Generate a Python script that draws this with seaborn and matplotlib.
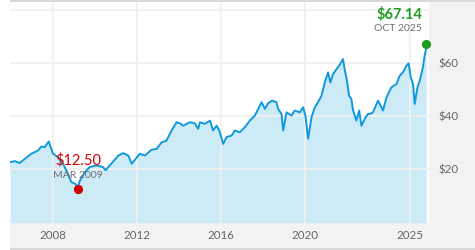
import matplotlib
matplotlib.use("Agg")
import matplotlib.pyplot as plt
import seaborn as sns
import pandas as pd
from matplotlib.patches import Rectangle

# ---- data ----
years = [2005.95, 2006.18, 2006.41, 2006.57, 2006.97, 2007.29, 2007.44, 2007.60, 2007.80, 2007.89,
         2008.00, 2008.24, 2008.48, 2008.71, 2008.87, 2009.03, 2009.19, 2009.29, 2009.52, 2009.76,
         2010.08, 2010.38, 2010.50, 2010.71, 2011.11, 2011.35, 2011.59, 2011.75, 2011.90, 2012.14,
         2012.38, 2012.70, 2012.94, 2013.18, 2013.41, 2013.65, 2013.89, 2014.05, 2014.20, 2014.52,
         2014.76, 2014.92, 2015.00, 2015.24, 2015.48, 2015.63, 2015.80, 2015.92, 2016.11, 2016.27,
         2016.51, 2016.67, 2016.90, 2017.14, 2017.38, 2017.62, 2017.78, 2017.94, 2018.10, 2018.25,
         2018.44, 2018.65, 2018.73, 2018.89, 2018.97, 2019.13, 2019.37, 2019.52, 2019.76, 2019.92,
         2020.03, 2020.16, 2020.32, 2020.48, 2020.63, 2020.80, 2020.95, 2021.11, 2021.22, 2021.35,
         2021.51, 2021.67, 2021.82, 2021.90, 2022.01, 2022.11, 2022.22, 2022.30, 2022.38, 2022.46,
         2022.59, 2022.70, 2022.86, 2023.01, 2023.10, 2023.25, 2023.49, 2023.73, 2023.89, 2024.13,
         2024.37, 2024.52, 2024.68, 2024.84, 2024.95, 2025.05, 2025.16, 2025.24, 2025.37, 2025.48,
         2025.63, 2025.71, 2025.79]
prices = [22.7, 23.1, 22.4, 23.4, 25.9, 27.1, 28.6, 28.3, 30.5, 28.3,
          25.9, 24.6, 22.1, 18.4, 15.3, 14.7, 13.6, 15.9, 19.0, 20.9,
          21.5, 20.9, 19.7, 21.5, 25.2, 26.1, 25.2, 22.1, 23.6, 25.9,
          25.2, 27.4, 27.7, 30.2, 30.8, 34.6, 37.7, 37.3, 36.4, 37.7,
          37.3, 35.2, 37.7, 37.1, 38.3, 34.6, 36.4, 34.6, 29.6, 32.1,
          32.7, 34.6, 33.9, 35.8, 38.3, 40.2, 42.7, 45.2, 42.7, 44.8,
          45.8, 45.2, 42.7, 40.8, 34.6, 41.4, 40.2, 42.1, 41.4, 43.3,
          40.2, 31.5, 39.6, 43.3, 45.2, 47.7, 52.6, 56.4, 52.6, 55.8,
          57.6, 59.3, 61.4, 57.6, 53.3, 47.7, 46.4, 42.1, 40.2, 38.3,
          42.1, 36.4, 39.0, 40.8, 40.8, 41.4, 45.8, 42.1, 47.0, 50.8,
          52.0, 55.1, 56.4, 58.9, 59.8, 54.5, 52.0, 44.6, 50.8, 53.3,
          58.2, 62.6, 65.5]

low_year, low_price, low_text, low_date = 2009.19, 12.50, "$12.50", "MAR 2009"
high_year, high_price, high_text, high_date = 2025.79, 67.14, "$67.14", "OCT 2025"

x_ticks = [2008, 2012, 2016, 2020, 2025]
y_ticks = [20, 40, 60, 80]
y_labels = ["$20", "$40", "$60", ""]

df = pd.DataFrame({"year": years, "price": prices})

# ---- styling ----
sns.set_style("white")
plt.rcParams["font.family"] = ["Lato", "DejaVu Sans"]

W, H = 475, 250
fig = plt.figure(figsize=(W / 100, H / 100), dpi=100, facecolor="white")

panel = "#f2f2f2"
edge = "#d9d9d9"
def rect(x0, y0, x1, y1, color):
    fig.patches.append(Rectangle((x0 / W, 1 - y1 / H), (x1 - x0) / W, (y1 - y0) / H,
                                 transform=fig.transFigure, facecolor=color,
                                 edgecolor="none", zorder=-5))
rect(429, 2, W, 248, panel)
rect(10, 222.7, W, 248, panel)
rect(10, 0, W, 2.2, edge)
rect(10, 247.6, W, H, edge)

ax_left, ax_right, ax_top, ax_bottom = 10, 429, 2.2, 222.7
ax = fig.add_axes([ax_left / W, 1 - ax_bottom / H, (ax_right - ax_left) / W, (ax_bottom - ax_top) / H])
ax.set_zorder(1)
ax.set_facecolor("white")

ymax = 80 + (9.5 - ax_top) / ((ax_bottom - 9.5) / 80)
ax.set_xlim(2005.95, 2025.92)
ax.set_ylim(0, ymax)

ax.fill_between(df["year"], 0, df["price"], color="#cdeaf7", linewidth=0, zorder=1)
sns.lineplot(data=df, x="year", y="price", ax=ax, color="#1199dd", linewidth=1.4, zorder=3)

ax.plot([low_year], [low_price], "o", color="#cc0000", markersize=5.6, zorder=4)
ax.plot([high_year], [high_price], "o", color="#1f9e1f", markersize=5.6, zorder=4, clip_on=False)

ax.annotate(low_text, (low_year, low_price), xytext=(0, 25), textcoords="offset pixels",
            ha="center", va="baseline", color="#d40000", fontsize=10.5, zorder=5)
ax.annotate(low_date, (low_year, low_price), xytext=(0, 11.7), textcoords="offset pixels",
            ha="center", va="baseline", color="#707070", fontsize=7.5, zorder=5)
ax.annotate(high_text, (high_year, high_price), xytext=(-4, 24.7), textcoords="offset pixels",
            ha="right", va="baseline", color="#1f9e1f", fontsize=10.5, fontweight="bold", zorder=5)
ax.annotate(high_date, (high_year, high_price), xytext=(-4, 12.3), textcoords="offset pixels",
            ha="right", va="baseline", color="#707070", fontsize=7.5, zorder=5)

ax.set_xticks(x_ticks)
ax.set_xticklabels([str(t) for t in x_ticks])
ax.set_yticks(y_ticks)
ax.set_yticklabels(y_labels)
ax.yaxis.tick_right()
ax.tick_params(axis="both", length=0, colors="#666666", labelsize=8.3)
ax.tick_params(axis="x", pad=5)
ax.tick_params(axis="y", pad=7)
ax.set_axisbelow(False)
ax.grid(True, color="#f0f0f0", linewidth=1.3)
for line in ax.get_xgridlines() + ax.get_ygridlines():
    line.set_zorder(2)
ax.set_xlabel("")
ax.set_ylabel("")
for s in ax.spines.values():
    s.set_visible(False)

fig.savefig("out.png", dpi=100, facecolor="white")
